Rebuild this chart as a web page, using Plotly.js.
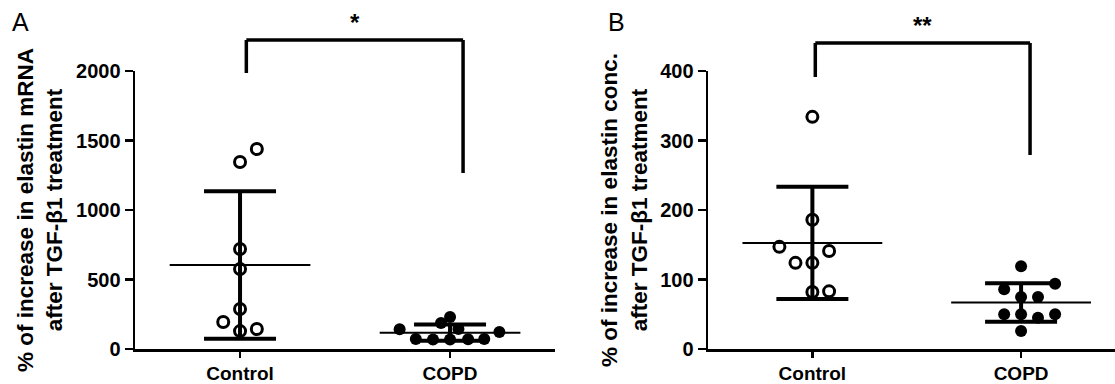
<!DOCTYPE html>
<html>
<head>
<meta charset="utf-8">
<script src="https://cdn.plot.ly/plotly-3.0.1.min.js"></script>
<style>html,body{margin:0;padding:0;background:#fff;}#chart{width:1115px;height:384px;}</style>
</head>
<body>
<div id="chart"></div>
<script>
// ---- data ----
const categories = ['Control', 'COPD'];

// Panel A: % increase in elastin mRNA
const mrnaControl = [1439, 1345, 719, 576, 288, 194, 144, 129];
const mrnaCOPD    = [143, 230, 187, 144, 122, 72, 69, 68, 70, 72];
// Panel B: % increase in elastin concentration
const concControl = [334, 186, 147, 141, 124, 124, 82, 83];
const concCOPD    = [119, 94, 86, 75, 75, 50, 50, 45, 50, 26];

// horizontal scatter offsets of the points (in category units)
const jitMrnaControl = [0.08, 0, 0, 0, 0, -0.08, 0.08, 0];
const jitMrnaCOPD    = [-0.24, 0, -0.043, 0.04, 0.235, -0.163, -0.081, 0, 0.086, 0.163];
const jitConcControl = [0, 0, -0.158, 0.08, -0.081, 0, 0, 0.08];
const jitConcCOPD    = [0, 0.163, -0.081, 0, 0.081, -0.081, 0, 0.081, 0.163, 0];

const yTicksA = [0, 500, 1000, 1500, 2000];
const yTicksB = [0, 100, 200, 300, 400];
const sigA = '*';
const sigB = '**';

// ---- helpers ----
const mean = a => a.reduce((s, v) => s + v, 0) / a.length;
const sd = a => { const m = mean(a); return Math.sqrt(a.reduce((s, v) => s + (v - m) * (v - m), 0) / (a.length - 1)); };
const FONT = 'Liberation Sans, Arial, sans-serif';

function panelTraces(ctrl, copd, jc, jd, xa, ya) {
  const means = [mean(ctrl), mean(copd)];
  const sds = [sd(ctrl), sd(copd)];
  const half = 0.335;
  return [
    { // SD error bars
      type: 'scatter', mode: 'markers', xaxis: xa, yaxis: ya,
      x: [0, 1], y: means,
      marker: {color: 'rgba(0,0,0,0)', size: 2},
      error_y: {type: 'data', array: sds, visible: true, color: '#000', thickness: 4, width: 36},
      showlegend: false, hoverinfo: 'skip'
    },
    { // mean lines
      type: 'scatter', mode: 'lines', xaxis: xa, yaxis: ya,
      x: [0 - half, 0 + half, null, 1 - half, 1 + half],
      y: [means[0], means[0], null, means[1], means[1]],
      line: {color: '#000', width: 2}, showlegend: false, hoverinfo: 'skip'
    },
    { // Control points
      type: 'scatter', mode: 'markers', xaxis: xa, yaxis: ya,
      x: ctrl.map((v, i) => 0 + jc[i]), y: ctrl,
      marker: {symbol: 'circle-open', size: 11, color: '#000', line: {width: 3, color: '#000'}},
      showlegend: false, cliponaxis: false
    },
    { // COPD points
      type: 'scatter', mode: 'markers', xaxis: xa, yaxis: ya,
      x: copd.map((v, i) => 1 + jd[i]), y: copd,
      marker: {symbol: 'circle', size: 12, color: '#000'},
      showlegend: false, cliponaxis: false
    }
  ];
}

const data = [
  ...panelTraces(mrnaControl, mrnaCOPD, jitMrnaControl, jitMrnaCOPD, 'x', 'y'),
  ...panelTraces(concControl, concCOPD, jitConcControl, jitConcCOPD, 'x2', 'y2')
];

const yTickFont = {family: FONT, size: 20, color: '#000', weight: 700};
const xTickFont = {family: FONT, size: 19, color: '#000', weight: 700};
const titleFont = {family: FONT, size: 22.5, color: '#000', weight: 700};

function xAxis(domain, range) {
  return {
    domain: domain, range: range, tickmode: 'array', tickvals: [0, 1], ticktext: categories,
    showline: true, linewidth: 2.5, linecolor: '#000', ticks: 'outside', ticklen: 6, tickwidth: 2.5,
    tickcolor: '#000', tickfont: xTickFont, showgrid: false, zeroline: false, fixedrange: true
  };
}
function yAxis(anchor, range, tickvals, title) {
  return {
    anchor: anchor, domain: [0.0911, 0.8151], range: range, tickmode: 'array', tickvals: tickvals,
    showline: true, linewidth: 2.5, linecolor: '#000', ticks: 'outside', ticklen: 8, tickwidth: 2.5,
    tickcolor: '#000', tickfont: yTickFont, showgrid: false, zeroline: false, fixedrange: true,
    title: {text: title, font: titleFont, standoff: 7}
  };
}

const bw = 3.5;
function bracket(xref, xl, xr, yTop, yLeft, yRight) {
  const base = {type: 'line', xref: xref, yref: 'paper', line: {color: '#000', width: bw}};
  return [
    Object.assign({}, base, {x0: xl, x1: xr, y0: yTop, y1: yTop}),
    Object.assign({}, base, {x0: xl, x1: xl, y0: yTop, y1: yLeft}),
    Object.assign({}, base, {x0: xr, x1: xr, y0: yTop, y1: yRight})
  ];
}

const layout = {
  width: 1115, height: 384,
  margin: {l: 0, r: 0, t: 0, b: 0},
  paper_bgcolor: '#fff', plot_bgcolor: '#fff',
  showlegend: false, hovermode: false,
  xaxis: xAxis([0.1211, 0.4978], [-0.5, 1.5]),
  yaxis: yAxis('x', [0, 2000], yTicksA, '% of increase in elastin mRNA<br>after TGF-β1 treatment'),
  xaxis2: xAxis([0.635, 1.0], [-0.5, 1.45]),
  yaxis2: yAxis('x2', [0, 400], yTicksB, '% of increase in elastin conc.<br>after TGF-β1 treatment'),
  shapes: [
    ...bracket('x', 0.03, 1.062, 0.8958, 0.8099, 0.5495),
    ...bracket('x2', 0.014, 1.043, 0.888, 0.7995, 0.5964)
  ],
  annotations: [
    {xref: 'paper', yref: 'paper', x: 0.009, y: 0.985, xanchor: 'left', yanchor: 'top', text: 'A', showarrow: false,
     font: {family: FONT, size: 25, color: '#000'}},
    {xref: 'paper', yref: 'paper', x: 0.5435, y: 0.985, xanchor: 'left', yanchor: 'top', text: 'B', showarrow: false,
     font: {family: FONT, size: 25, color: '#000'}},
    {xref: 'x', yref: 'paper', x: (0.03 + 1.062) / 2, y: 0.9, xanchor: 'center', yanchor: 'bottom', text: sigA,
     showarrow: false, font: {family: FONT, size: 24, color: '#000', weight: 700}},
    {xref: 'x2', yref: 'paper', x: (0.014 + 1.043) / 2, y: 0.892, xanchor: 'center', yanchor: 'bottom', text: sigB,
     showarrow: false, font: {family: FONT, size: 24, color: '#000', weight: 700}}
  ]
};

Plotly.newPlot('chart', data, layout, {displayModeBar: false, staticPlot: true});
</script>
</body>
</html>
